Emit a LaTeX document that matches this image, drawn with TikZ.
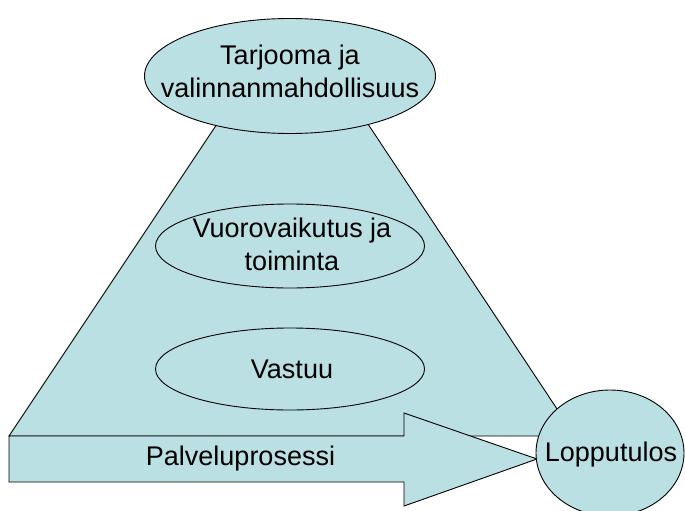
\documentclass[tikz,border=0pt]{standalone}
\usepackage{fontspec}
\setmainfont{Liberation Sans}
\usetikzlibrary{shapes.geometric}
\definecolor{kaavio}{RGB}{187,224,227}
\tikzset{
    soikio/.style={ellipse, draw, inner sep=0pt},
    teksti/.style={inner sep=0pt, align=center, font=\fontsize{27}{33}\selectfont}
}

\begin{document}
\begin{tikzpicture}[x=1pt,y=-1pt,line width=0.9pt]
    \useasboundingbox (0,0) rectangle (685,511);

    % Define corners of the trapezoid
    \coordinate (A) at (233,100);
    \coordinate (B) at (9,436);
    \coordinate (C) at (575,436);
    \coordinate (D) at (352,100);

    % Draw the trapezoid
    \draw[fill=kaavio] (A) -- (B) -- (C) -- (D) -- cycle;

    % Ellipses
    \node[soikio, fill=kaavio, minimum width=291pt, minimum height=115pt] (tarjooma) at (290,76) {};
    \node[soikio, minimum width=269pt, minimum height=84pt] (vuoro) at (290,246) {};
    \node[soikio, minimum width=269pt, minimum height=82pt] (vastuu) at (290,369) {};

    % Arrow along the bottom
    \coordinate (karki) at (537,459);
    \draw[fill=kaavio] (B) -- (404,436) -- (404,413) -- (karki)
        -- (404,506) -- (404,482) -- (9,482) -- cycle;

    % End result
    \node[soikio, fill=kaavio, minimum width=148pt, minimum height=126pt] (loppu) at (610,453) {};

    % Labels
    \node[teksti] (tarjoomateksti) at (290,71.5) {Tarjooma ja\\valinnanmahdollisuus};
    \node[teksti] (vuoroteksti) at (292,244.5) {Vuorovaikutus ja\\toiminta};
    \node[teksti] (vastuuteksti) at (292,369) {Vastuu};
    \node[teksti] (prosessi) at (240.5,459) {Palveluprosessi};
    \node[teksti] (lopputeksti) at (611,455) {Lopputulos};
\end{tikzpicture}
\end{document}
